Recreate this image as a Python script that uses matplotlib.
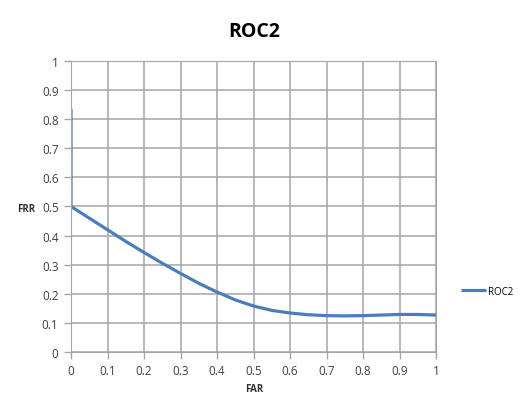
import matplotlib
matplotlib.use('Agg')
import matplotlib.pyplot as plt

# ROC2 curve values
far = [0, 0, 0.05, 0.1, 0.15, 0.2, 0.25, 0.3, 0.35, 0.4, 0.45, 0.5,
       0.55, 0.6, 0.65, 0.7, 0.75, 0.8, 0.85, 0.9, 0.95, 1.0]
frr = [0.835, 0.5, 0.46, 0.42, 0.38, 0.342, 0.305, 0.27, 0.236, 0.206,
       0.179, 0.158, 0.143, 0.134, 0.128, 0.125, 0.124, 0.125, 0.127,
       0.129, 0.129, 0.127]
ticks = [0, 0.1, 0.2, 0.3, 0.4, 0.5, 0.6, 0.7, 0.8, 0.9, 1]
tick_labels = ['0', '0.1', '0.2', '0.3', '0.4', '0.5', '0.6', '0.7', '0.8', '0.9', '1']

plt.rcParams['font.family'] = ['Open Sans', 'DejaVu Sans']

fig = plt.figure(figsize=(5.23, 4.02), dpi=100)
ax = fig.add_axes([0.1358, 0.1219, 0.6979, 0.7239])

line, = ax.plot(far, frr, color='#4a7ebb', linewidth=2.3, solid_capstyle='butt')

ax.set_xlim(0, 1)
ax.set_ylim(0, 1)
ax.set_xticks(ticks)
ax.set_yticks(ticks)
ax.set_xticklabels(tick_labels, fontsize=8.5, color='#404040')
ax.set_yticklabels(tick_labels, fontsize=8.5, color='#404040')
ax.tick_params(length=5, width=1, color='#a6a6a6', pad=4)
ax.grid(True, color='#a6a6a6', linewidth=1.1)
ax.set_axisbelow(True)
for s in ax.spines.values():
    s.set_color('#a6a6a6')

fig.text(0.486, 0.92, 'ROC2', fontsize=14, fontweight='bold', ha='center', va='center')
fig.text(0.05, 0.478, 'FRR', fontsize=7, fontweight='bold', ha='center', va='center', color='#333333')
fig.text(0.486, 0.03, 'FAR', fontsize=7, fontweight='bold', ha='center', va='center', color='#333333')

fig.legend([line], ['ROC2'], loc='center left', bbox_to_anchor=(0.865, 0.273),
           frameon=False, fontsize=7, handlelength=2.6, handletextpad=0.2)

fig.savefig('out.png', dpi=100)
